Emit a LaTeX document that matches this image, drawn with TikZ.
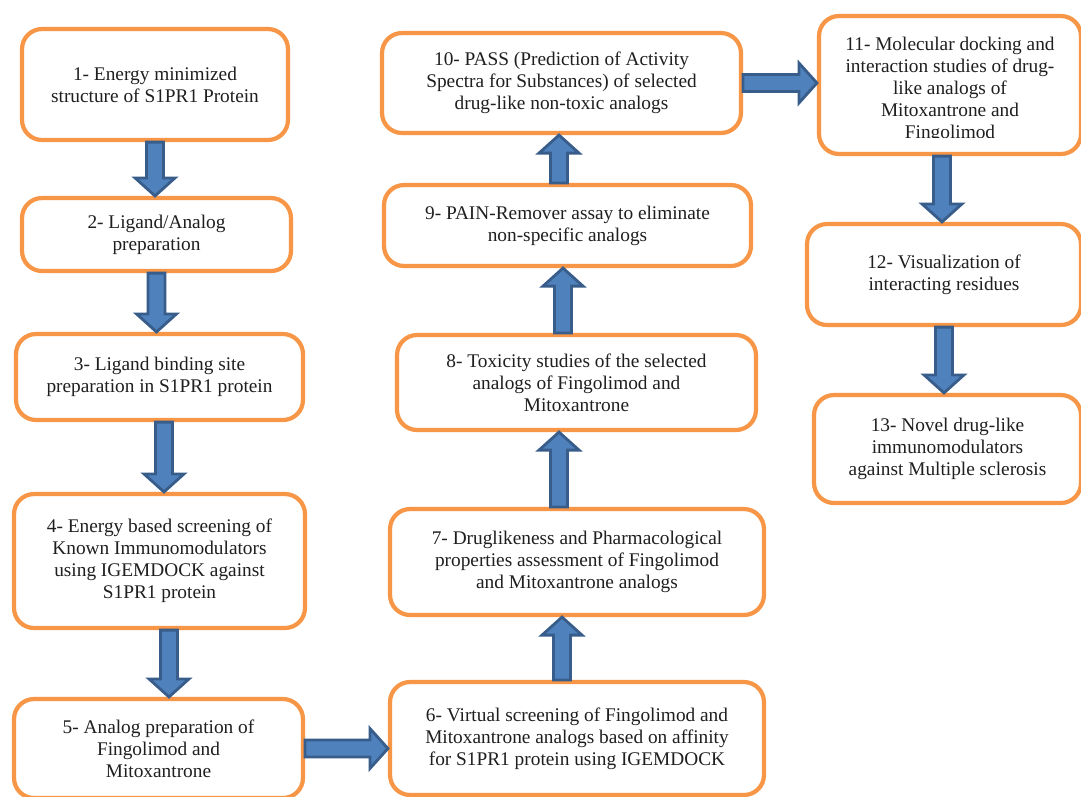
\documentclass[tikz,border=0pt]{standalone}
\usepackage{fontspec}
\setmainfont{Liberation Serif}
\usepackage{tikz}
\usetikzlibrary{calc}
\definecolor{boxorange}{HTML}{F79646}
\definecolor{arrowfill}{HTML}{4F81BD}
\definecolor{arrowline}{HTML}{385D8A}
\newcommand{\blockarrow}[2]{%
\coordinate (bs) at (#1);
\coordinate (be) at (#2);
\coordinate (bh) at ($(be)!0.36cm!(bs)$);
\filldraw[blockarr] ($(bs)!0.17cm!90:(be)$) -- ($(bh)!0.17cm!90:(be)$) -- ($(bh)!0.4cm!90:(be)$) -- (be)
  -- ($(bh)!0.4cm!-90:(be)$) -- ($(bh)!0.17cm!-90:(be)$) -- ($(bs)!0.17cm!-90:(be)$) -- cycle;}

\begin{document}
\begin{tikzpicture}[x=0.02cm,y=-0.02cm,
  stepbox/.style={draw=boxorange, line width=2.4pt, rounded corners=0.4cm, fill=white, align=center, inner sep=0pt,
    font=\fontsize{11}{12.5}\selectfont, text=black!88},
  steptext/.style={align=center, inner sep=0pt, font=\fontsize{11}{12.5}\selectfont, text=black!88},
  blockarr/.style={fill=arrowfill, draw=arrowline, line width=1.6pt, line join=miter}]
\useasboundingbox (0,0) rectangle (1081,796);
\fill[white] (0,0) rectangle (1081,796);
\clip (0,0) rectangle (1081,796);

% left column
\node[stepbox, minimum width=5.32cm, minimum height=2.22cm] (n1) at (155,84.5) {1- Energy minimized\\structure of S1PR1 Protein};
\node[stepbox, minimum width=5.38cm, minimum height=1.46cm] (n2) at (156.5,234.5) {2- Ligand/Analog\\preparation};
\node[stepbox, minimum width=5.74cm, minimum height=1.72cm] (n3) at (159.5,377) {3- Ligand binding site\\preparation in S1PR1 protein};
\node[stepbox, minimum width=5.82cm, minimum height=2.68cm] (n4) at (159.5,561) {4- Energy based screening of\\Known Immunomodulators\\using IGEMDOCK against\\S1PR1 protein};
\node[stepbox, minimum width=5.78cm, minimum height=1.98cm] (n5) at (158.5,748.5) {5- Analog preparation of\\Fingolimod and\\Mitoxantrone};

% middle column
\node[stepbox, minimum width=7.48cm, minimum height=2.26cm] (n6) at (577,738.5) {6- Virtual screening of Fingolimod and\\Mitoxantrone analogs based on affinity\\for S1PR1 protein using IGEMDOCK};
\node[stepbox, minimum width=7.48cm, minimum height=2.12cm] (n7) at (577,562) {7- Druglikeness and Pharmacological\\properties assessment of Fingolimod\\and Mitoxantrone analogs};
\node[stepbox, minimum width=7.18cm, minimum height=1.9cm] (n8) at (576.5,382.5) {8- Toxicity studies of the selected\\analogs of Fingolimod and\\Mitoxantrone};
\node[stepbox, minimum width=7.34cm, minimum height=1.62cm] (n9) at (567.5,225.5) {9- PAIN-Remover assay to eliminate\\non-specific analogs};
\node[stepbox, minimum width=7.18cm, minimum height=2.0cm] (n10) at (561.5,83) {10- PASS (Prediction of Activity\\Spectra for Substances) of selected\\drug-like non-toxic analogs};

% right column
\node[stepbox, minimum width=5.24cm, minimum height=2.76cm] (n11) at (950,85) {};
\begin{scope}
\clip (817,14) rectangle (1081,137);
\node[steptext] (t11) at (950,90) {11- Molecular docking and\\interaction studies of drug-\\like analogs of\\Mitoxantrone and\\Fingolimod};
\end{scope}
\node[stepbox, minimum width=5.48cm, minimum height=2.02cm] (n12) at (944,274.5) {12- Visualization of\\interacting residues};
\node[stepbox, minimum width=5.34cm, minimum height=2.16cm] (n13) at (947.5,449) {13- Novel drug-like\\immunomodulators\\against Multiple sclerosis};

\blockarrow{n1.south}{n1.south |- n2.north}
\blockarrow{n2.south}{n2.south |- n3.north}
\blockarrow{[xshift=0.09cm]n3.south}{[xshift=0.09cm]n3.south |- n4.north}
\blockarrow{[xshift=0.19cm]n4.south}{[xshift=0.19cm]n4.south |- n5.north}
\blockarrow{n5.east}{n5.east -| n6.west}
\blockarrow{[xshift=-0.3cm]n6.north}{[xshift=-0.3cm]n6.north |- n7.south}
\blockarrow{[xshift=-0.36cm]n7.north}{[xshift=-0.36cm]n7.north |- n8.south}
\blockarrow{[xshift=-0.27cm]n8.north}{[xshift=-0.27cm]n8.north |- n9.south}
\blockarrow{[xshift=-0.17cm]n9.north}{[xshift=-0.17cm]n9.north |- n10.south}
\blockarrow{n10.east}{n10.east -| n11.west}
\blockarrow{[xshift=-0.16cm]n11.south}{[xshift=-0.16cm]n11.south |- n12.north}
\blockarrow{n12.south}{n12.south |- n13.north}
\end{tikzpicture}
\end{document}
